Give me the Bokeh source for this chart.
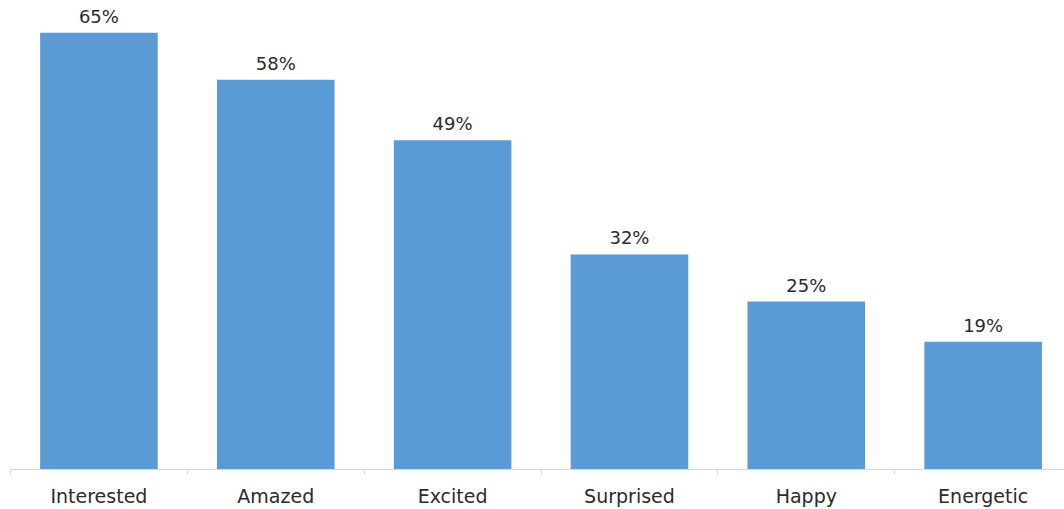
from bokeh.plotting import figure
from bokeh.models import ColumnDataSource, FixedTicker, Range1d
from bokeh.core.properties import value
from bokeh.embed import file_html
from bokeh.resources import INLINE

categories = ["Interested", "Amazed", "Excited", "Surprised", "Happy", "Energetic"]
values = [65, 58, 49, 32, 25, 19]
value_labels = ["65%", "58%", "49%", "32%", "25%", "19%"]

centers = [i + 0.5 for i in range(len(categories))]
bounds = [float(i) for i in range(len(categories) + 1)]

src = ColumnDataSource(dict(x=centers, top=values, label=value_labels))

p = figure(width=1064, height=509, output_backend="svg", toolbar_location=None,
           x_range=Range1d(0, 5.96), y_range=Range1d(0, 69.8),
           min_border_left=10, min_border_right=0, min_border_top=0, min_border_bottom=40)

p.vbar(x="x", top="top", width=0.665, source=src, fill_color="#5B9BD5", line_color=None)
p.text(x="x", y="top", text="label", source=src, text_align="center", text_baseline="bottom",
       y_offset=-6, text_font=value("DejaVu Sans"), text_font_size="18px", text_color="#2b2b2b")

p.yaxis.visible = False
p.grid.visible = False
p.outline_line_color = None
p.background_fill_color = "white"
p.border_fill_color = "white"

xa = p.xaxis[0]
xa.ticker = FixedTicker(ticks=centers, minor_ticks=bounds)
xa.major_label_overrides = {c: n for c, n in zip(centers, categories)}
xa.major_tick_line_color = None
xa.major_tick_out = 0
xa.major_tick_in = 0
xa.minor_tick_line_color = "#D9D9D9"
xa.minor_tick_out = 5
xa.minor_tick_in = 0
xa.axis_line_color = "#D9D9D9"
xa.axis_line_width = 1
xa.major_label_text_font = "DejaVu Sans"
xa.major_label_text_font_size = "19px"
xa.major_label_text_color = "#2b2b2b"
xa.major_label_standoff = 10

open("out.html", "w").write(file_html(p, INLINE))
